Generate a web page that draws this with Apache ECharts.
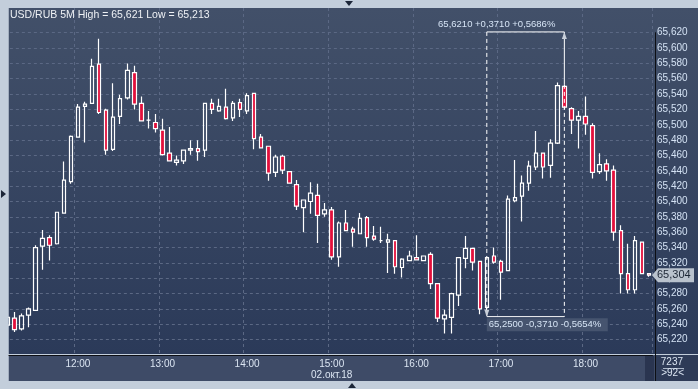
<!DOCTYPE html>
<html><head><meta charset="utf-8">
<script src="https://cdn.jsdelivr.net/npm/echarts@6/dist/echarts.min.js"></script>
<style>html,body{margin:0;padding:0;background:#c3cedb}#c{width:698px;height:389px}</style>
</head><body><div id="c"></div>
<script>
const times = ['11:10','11:15','11:20','11:25','11:30','11:35','11:40','11:45','11:50','11:55',
'12:00','12:05','12:10','12:15','12:20','12:25','12:30','12:35','12:40','12:45','12:50','12:55',
'13:00','13:05','13:10','13:15','13:20','13:25','13:30','13:35','13:40','13:45','13:50','13:55',
'14:00','14:05','14:10','14:15','14:20','14:25','14:30','14:35','14:40','14:45','14:50','14:55',
'15:00','15:05','15:10','15:15','15:20','15:25','15:30','15:35','15:40','15:45','15:50','15:55',
'16:00','16:05','16:10','16:15','16:20','16:25','16:30','16:35','16:40','16:45','16:50','16:55',
'17:00','17:05','17:10','17:15','17:20','17:25','17:30','17:35','17:40','17:45','17:50','17:55',
'18:00','18:05','18:10','18:15','18:20','18:25','18:30','18:35','18:40','18:45'];
const opens = [65.239,65.248,65.234,65.252,65.258,65.342,65.353,65.345,65.385,65.426,
65.484,65.524,65.528,65.579,65.519,65.468,65.511,65.535,65.568,65.528,65.506,65.503,
65.493,65.463,65.451,65.453,65.467,65.469,65.467,65.528,65.518,65.523,65.509,65.529,
65.518,65.541,65.484,65.472,65.438,65.459,65.439,65.422,65.392,65.400,65.408,65.384,
65.389,65.328,65.372,65.364,65.358,65.379,65.355,65.349,65.347,65.349,65.314,65.323,
65.327,65.323,65.331,65.293,65.247,65.249,65.278,65.326,65.339,65.322,65.262,65.329,
65.322,65.310,65.401,65.407,65.424,65.445,65.463,65.447,65.476,65.550,65.521,65.506,
65.511,65.499,65.439,65.449,65.441,65.362,65.306,65.285,65.347,65.306];
const closes = [65.249,65.233,65.251,65.260,65.340,65.352,65.343,65.386,65.428,65.485,
65.523,65.527,65.576,65.516,65.467,65.510,65.534,65.571,65.527,65.505,65.506,65.495,
65.461,65.453,65.454,65.467,65.469,65.465,65.528,65.520,65.524,65.508,65.528,65.520,
65.538,65.482,65.470,65.437,65.458,65.441,65.424,65.394,65.402,65.411,65.382,65.389,
65.328,65.372,65.362,65.360,65.378,65.353,65.351,65.349,65.350,65.315,65.325,65.329,
65.324,65.329,65.293,65.248,65.252,65.280,65.327,65.339,65.321,65.260,65.327,65.321,
65.308,65.403,65.405,65.424,65.446,65.463,65.445,65.476,65.551,65.523,65.506,65.511,
65.501,65.438,65.448,65.440,65.360,65.306,65.285,65.349,65.306,65.304];
const lows = [65.236,65.230,65.232,65.236,65.258,65.311,65.323,65.344,65.385,65.423,
65.484,65.477,65.528,65.514,65.461,65.466,65.501,65.533,65.520,65.505,65.495,65.490,
65.460,65.452,65.447,65.449,65.461,65.453,65.458,65.514,65.517,65.507,65.505,65.510,
65.514,65.468,65.469,65.427,65.432,65.436,65.424,65.389,65.360,65.384,65.346,65.380,
65.324,65.315,65.362,65.341,65.358,65.341,65.349,65.346,65.307,65.306,65.301,65.323,
65.323,65.323,65.286,65.243,65.228,65.228,65.264,65.313,65.310,65.253,65.252,65.319,
65.272,65.310,65.399,65.374,65.414,65.441,65.430,65.431,65.475,65.520,65.488,65.469,
65.487,65.430,65.436,65.427,65.349,65.280,65.280,65.280,65.306,65.302];
const highs = [65.251,65.256,65.254,65.262,65.343,65.363,65.356,65.386,65.452,65.486,
65.527,65.530,65.586,65.612,65.521,65.554,65.539,65.580,65.577,65.537,65.518,65.514,
65.508,65.497,65.460,65.467,65.480,65.480,65.528,65.534,65.534,65.547,65.531,65.534,
65.541,65.541,65.488,65.472,65.461,65.461,65.439,65.428,65.402,65.425,65.423,65.398,
65.393,65.374,65.389,65.367,65.385,65.381,65.368,65.367,65.358,65.349,65.326,65.336,
65.356,65.329,65.334,65.293,65.259,65.281,65.327,65.355,65.339,65.322,65.328,65.340,
65.324,65.408,65.454,65.434,65.453,65.492,65.463,65.481,65.555,65.552,65.523,65.518,
65.537,65.502,65.463,65.455,65.447,65.369,65.345,65.355,65.348,65.306];
const titleText = 'USD/RUB 5M High = 65,621 Low = 65,213';
const dateLabel = '02.окт.18';
const lastPrice = 65.304;
const measureFrom = {index: 68, value: 65.2500, text: '65,2500 -0,3710 -0,5654%'};
const measureTo = {index: 79, value: 65.6210, text: '65,6210 +0,3710 +0,5686%'};
const barCountText = '7237';
const visibleText = '>92<';

const fmt = v => v.toFixed(3).replace('.', ',');
const frameCol = '#c3cedb';
const candleData = opens.map((o, i) => [o, closes[i], lows[i], highs[i]]);
const isHour = (idx, val) => String(val).endsWith(':00');

const chart = echarts.init(document.getElementById('c'), null, {renderer: 'canvas'});
const FONT = '"Liberation Sans", Arial, sans-serif';
const GL = 3.875, GW = 648.6;
const gridCol = '#5b6884';
const option = {
  animation: false,
  backgroundColor: frameCol,
  grid: [
    {left: GL, top: 32.7, width: GW, height: 322.3},
    {left: GL, top: 8, width: GW, height: 347}
  ],
  xAxis: [{
    type: 'category', data: times, boundaryGap: true, gridIndex: 0,
    axisLine: {show: true, lineStyle: {color: '#0d0f14', width: 1}},
    axisTick: {show: false},
    axisLabel: {interval: isHour, color: '#dbe5f2', fontSize: 10, fontFamily: FONT, margin: 4, lineHeight: 11,
      formatter: v => v === '15:00' ? v + '\n' + dateLabel : v},
    splitLine: {show: false}
  }, {
    type: 'category', data: times, boundaryGap: true, gridIndex: 1,
    axisLine: {show: false}, axisTick: {show: false}, axisLabel: {show: false},
    splitLine: {show: true, interval: isHour, lineStyle: {color: gridCol, type: [3, 3], width: 1}}
  }],
  yAxis: [{
    type: 'value', position: 'right', offset: 2.5, min: 65.200, max: 65.620, interval: 0.02, gridIndex: 0,
    axisLine: {show: true, lineStyle: {color: '#0d0f14', width: 1}},
    axisTick: {show: false},
    axisLabel: {color: '#d3e1f3', fontSize: 10, fontFamily: FONT, margin: 2, showMaxLabel: true,
      formatter: v => v < 65.21 ? '' : fmt(v)},
    splitLine: {show: true, lineStyle: {color: gridCol, type: [3, 3], width: 1}}
  }, {
    type: 'value', gridIndex: 1, min: 0, max: 1, show: false
  }],
  series: [{
    type: 'candlestick', data: candleData, barWidth: 4, clip: true, xAxisIndex: 0, yAxisIndex: 0,
    itemStyle: {color: 'rgba(0,0,0,0)', color0: '#e3103c', borderColor: '#ffffff', borderColor0: '#ffffff', borderWidth: 1.2}
  }],
  graphic: {elements: []}
};
chart.setOption(option);

const px = (i, v) => chart.convertToPixel({gridIndex: 0}, [i, v]);
const [xL, yB] = px(measureFrom.index, measureFrom.value);
const [xR, yT] = px(measureTo.index, measureTo.value);
const yC = px(measureTo.index, highs[measureTo.index])[1];
const yP = px(0, lastPrice)[1];
const wline = {stroke: '#ffffff', lineWidth: 1};
const dash = {stroke: '#ffffff', lineWidth: 1, lineDash: [4, 3]};
const txt = (x, y, text, fill, size, align) => ({type: 'text', z: 60,
  style: {x, y, text, fill, font: size + 'px ' + FONT, align: align || 'left', verticalAlign: 'middle'}});
const bgGrad = new echarts.graphic.LinearGradient(0, 0, 0, 1, [{offset: 0, color: '#425069'}, {offset: 1, color: '#2b3a59'}]);
const els = [
  {type: 'rect', z: -10, shape: {x: 8.5, y: 8, width: 690, height: 346}, style: {fill: bgGrad}},
  {type: 'rect', z: -5, shape: {x: 8.5, y: 355, width: 647, height: 26}, style: {fill: '#3e4b67'}},
  {type: 'rect', z: -4, shape: {x: 645, y: 356, width: 9, height: 25}, style: {fill: '#2a3550'}},
  {type: 'rect', z: -5, shape: {x: 655.5, y: 355, width: 42.5, height: 26}, style: {fill: '#2e3b57'}},
  {type: 'line', z: 50, shape: {x1: 655.5, y1: 355, x2: 655.5, y2: 381}, style: {stroke: '#0d0f14', lineWidth: 1}},
  txt(683, 362, barCountText, '#dbe5f2', 10, 'right'),
  {type: 'line', z: 50, shape: {x1: 663, y1: 368.5, x2: 684, y2: 368.5}, style: {stroke: '#aab6c8', lineWidth: 1}},
  txt(684, 373.5, visibleText, '#dbe5f2', 10, 'right'),
  {type: 'rect', z: 100, shape: {x: 0, y: 0, width: 8.5, height: 389}, style: {fill: frameCol}},
  {type: 'rect', z: 100, shape: {x: 0, y: 0, width: 698, height: 8}, style: {fill: frameCol}},
  {type: 'rect', z: 100, shape: {x: 0, y: 381, width: 698, height: 8}, style: {fill: frameCol}},
  {type: 'polygon', z: 101, shape: {points: [[345, 1], [353, 1], [349, 6]]}, style: {fill: '#1c2638'}},
  {type: 'polygon', z: 101, shape: {points: [[348, 388], [356, 388], [352, 383]]}, style: {fill: '#1c2638'}},
  {type: 'polygon', z: 101, shape: {points: [[1, 190], [1, 198], [6, 194]]}, style: {fill: '#1c2638'}},
  txt(10, 15, titleText, '#eef1f5', 10.5),
  // measurement tool
  {type: 'line', z: 40, shape: {x1: xL, y1: yT, x2: xL, y2: yB}, style: dash},
  {type: 'line', z: 40, shape: {x1: xL, y1: yT, x2: xR, y2: yT}, style: wline},
  {type: 'line', z: 40, shape: {x1: xR, y1: yT, x2: xR, y2: yC}, style: wline},
  {type: 'line', z: 40, shape: {x1: xR, y1: yC, x2: xR, y2: yB}, style: dash},
  {type: 'line', z: 40, shape: {x1: xL, y1: yB, x2: xR, y2: yB}, style: wline},
  {type: 'polygon', z: 41, shape: {points: [[xR - 2.5, yT + 7], [xR + 2.5, yT + 7], [xR, yT]]}, style: {fill: '#c8cfd9'}},
  {type: 'polygon', z: 41, shape: {points: [[xL - 2.5, yB - 7], [xL + 2.5, yB - 7], [xL, yB]]}, style: {fill: '#c8cfd9'}},
  txt(xR - 9, yT - 8, measureTo.text, '#d6e4f5', 9.5, 'right'),
  {type: 'rect', z: 41, shape: {x: xL, y: yB + 1.5, width: 121, height: 13}, style: {fill: '#46546f'}},
  txt(xL + 2, yB + 8, measureFrom.text, '#d6e4f5', 9.5),
  // last price label
  {type: 'polygon', z: 60, shape: {points: [[652, yP], [658, yP - 7], [694, yP - 7], [694, yP + 7], [658, yP + 7]]}, style: {fill: '#b9c2cd'}},
  txt(657, yP, fmt(lastPrice), '#1c2635', 11)
];
chart.setOption({graphic: {elements: els}});
</script></body></html>
